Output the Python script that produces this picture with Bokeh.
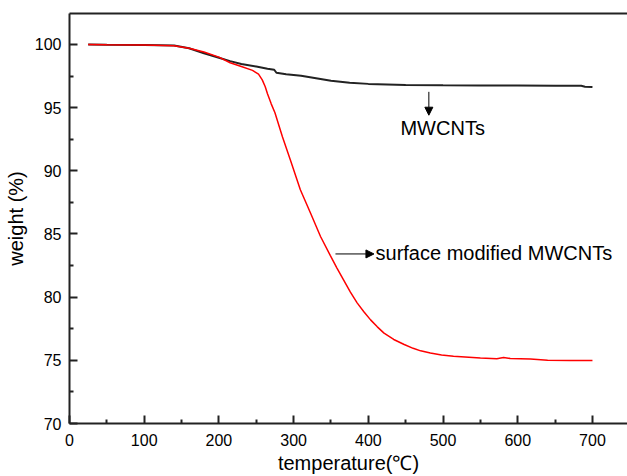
from bokeh.plotting import figure
from bokeh.models import (Range1d, FixedTicker, LinearAxis, Arrow, NormalHead, Label)
from bokeh.embed import file_html
from bokeh.resources import INLINE

# Data
temp_mwcnt = [25, 50, 100, 140, 160, 180, 200, 215, 230, 250, 265, 274, 277, 290, 310,
              330, 350, 375, 400, 450, 500, 550, 600, 650, 685, 690, 700]
weight_mwcnt = [100.0, 99.98, 99.95, 99.92, 99.7, 99.3, 98.95, 98.68, 98.46, 98.25, 98.08,
                98.0, 97.76, 97.64, 97.52, 97.33, 97.12, 96.97, 96.88, 96.8, 96.77, 96.76,
                96.75, 96.74, 96.73, 96.66, 96.64]

temp_mod = [25, 50, 100, 140, 160, 180, 200, 215, 230, 245, 253, 258, 262, 265, 270, 275,
            285, 296, 309, 323, 336, 349, 358, 367, 376, 385, 394, 403, 412, 421, 434,
            448, 460, 470, 483, 498, 514, 550, 572, 581, 590, 617, 640, 670, 700]
weight_mod = [100.0, 99.98, 99.95, 99.9, 99.7, 99.4, 99.0, 98.55, 98.25, 97.95, 97.65,
              97.2, 96.65, 96.1, 95.3, 94.6, 92.7, 90.8, 88.5, 86.6, 84.8, 83.3, 82.3,
              81.35, 80.4, 79.55, 78.85, 78.2, 77.65, 77.15, 76.65, 76.25, 75.95, 75.75,
              75.58, 75.43, 75.32, 75.18, 75.13, 75.22, 75.15, 75.1, 75.0, 74.98, 74.98]

x_ticks = [0, 100, 200, 300, 400, 500, 600, 700]
x_minor = [50, 150, 250, 350, 450, 550, 650]
y_ticks = [70, 75, 80, 85, 90, 95, 100]
y_minor = [72.5, 77.5, 82.5, 87.5, 92.5, 97.5, 102.5]

FONT = "Liberation Sans"

p = figure(width=627, height=476, output_backend="svg", toolbar_location=None,
           x_range=Range1d(0, 746.9), y_range=Range1d(70, 102.45),
           min_border_left=69, min_border_right=0, min_border_top=13, min_border_bottom=52,
           x_axis_label="temperature(℃)", y_axis_label="weight (%)")
p.outline_line_color = None
p.xgrid.visible = False
p.ygrid.visible = False
p.background_fill_color = "white"
p.border_fill_color = "white"

p.xaxis.ticker = FixedTicker(ticks=x_ticks, minor_ticks=x_minor)
p.yaxis.ticker = FixedTicker(ticks=y_ticks, minor_ticks=y_minor)
for ax in (p.xaxis[0], p.yaxis[0]):
    ax.axis_line_width = 2
    ax.axis_line_color = "#222222"
    ax.major_tick_line_width = 2
    ax.minor_tick_line_width = 2
    ax.major_tick_line_color = "#222222"
    ax.minor_tick_line_color = "#222222"
    ax.major_tick_in = 8
    ax.major_tick_out = 0
    ax.minor_tick_in = 4
    ax.minor_tick_out = 0
    ax.major_label_text_font = FONT
    ax.major_label_text_font_size = "16px"
    ax.major_label_text_color = "black"
    ax.axis_label_text_font = FONT
    ax.axis_label_text_font_size = "20px"
    ax.axis_label_text_font_style = "normal"
    ax.axis_label_text_color = "black"
p.xaxis.major_label_standoff = 10
p.xaxis.axis_label_standoff = 3
p.yaxis.major_label_standoff = 8
p.yaxis.axis_label_standoff = 5

# top border
top = LinearAxis(ticker=FixedTicker(ticks=[]), major_tick_in=0, major_tick_out=0,
                 minor_tick_in=0, minor_tick_out=0, axis_line_width=2,
                 axis_line_color="#222222", major_label_text_font_size="0px")
p.add_layout(top, "above")

p.line(temp_mwcnt, weight_mwcnt, line_color="#222222", line_width=2)
p.line(temp_mod, weight_mod, line_color="#ff0000", line_width=1.5)

p.add_layout(Arrow(end=NormalHead(size=8, fill_color="black", line_color="black"),
                   x_start=481, y_start=96.25, x_end=481, y_end=94.4,
                   line_color="black", line_width=1))
p.add_layout(Arrow(end=NormalHead(size=8, fill_color="black", line_color="black"),
                   x_start=356, y_start=83.42, x_end=407.5, y_end=83.42,
                   line_color="black", line_width=1))

p.add_layout(Label(x=443, y=93.37, text="MWCNTs", text_font=FONT, text_font_size="20px",
                   text_baseline="middle", text_color="black"))
p.add_layout(Label(x=409.6, y=83.48, text="surface modified MWCNTs", text_font=FONT,
                   text_font_size="20px", text_baseline="middle", text_color="black"))

open("out.html", "w").write(file_html(p, INLINE))
